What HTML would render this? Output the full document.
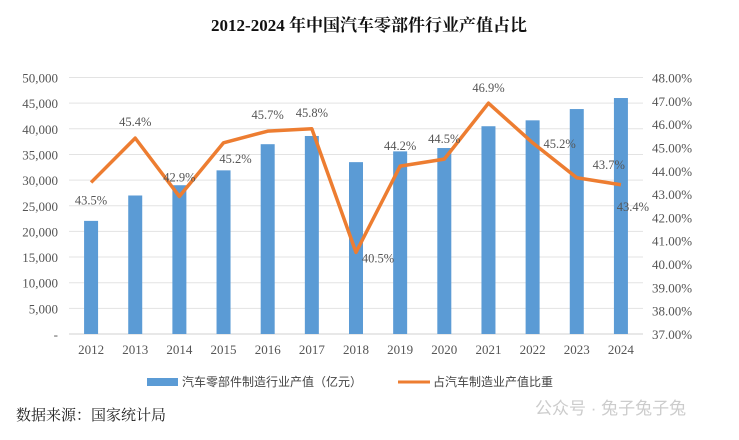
<!DOCTYPE html>
<html><head><meta charset="utf-8"><style>
body{margin:0;background:#fff;width:739px;height:435px;overflow:hidden;font-family:"Liberation Serif","Noto Serif CJK SC",serif;}
svg text{font-family:"Liberation Serif","Noto Sans CJK SC",serif;}
</style></head><body>
<svg id="chart" width="739" height="435" xmlns="http://www.w3.org/2000/svg">
<text x="369" y="31" text-anchor="middle" font-size="17" font-weight="bold" fill="#111" style="font-family:'Liberation Serif','Noto Serif CJK SC',serif">2012-2024 年中国汽车零部件行业产值占比</text>
<g id="grid"></g><g id="bars"></g><g id="line"></g><g id="labels"></g><g id="axes"></g>
<g>
<rect x="147" y="378" width="31" height="8" fill="#5b9bd5"/>
<text x="182" y="386" font-size="12" fill="#444" style="font-family:'Liberation Sans','Noto Sans CJK SC',sans-serif">汽车零部件制造行业产值（亿元）</text>
<line x1="398" y1="382" x2="430" y2="382" stroke="#ed7d31" stroke-width="3"/>
<text x="433" y="386" font-size="12" fill="#444" style="font-family:'Liberation Sans','Noto Sans CJK SC',sans-serif">占汽车制造业产值比重</text>
</g>
<text x="16" y="420" font-size="15" fill="#222" style="font-family:'Liberation Serif','Noto Serif CJK SC',serif">数据来源：国家统计局</text>
<text x="535" y="414" font-size="17" fill="#ccc" style="font-family:'Liberation Sans','Noto Sans CJK SC',sans-serif">公众号 · 兔子兔子兔</text>
</svg>
<script>
const categories=["2012","2013","2014","2015","2016","2017","2018","2019","2020","2021","2022","2023","2024"];
const outputValues=[22050,27000,29000,31900,37000,38600,33500,35600,36250,40500,41650,43850,46000];
const shareValues=[43.5,45.4,42.9,45.2,45.7,45.8,40.5,44.2,44.5,46.9,45.2,43.7,43.4];
const leftTicks=[0,5000,10000,15000,20000,25000,30000,35000,40000,45000,50000];
const rightTicks=[37,38,39,40,41,42,43,44,45,46,47,48];
const NS="http://www.w3.org/2000/svg";
const X0=69,X1=643,Y0=334,Y1=77.5;
const step=(X1-X0)/categories.length;
const xc=i=>X0+step*(i+0.5);
const yL=v=>Y0-(v/50000)*(Y0-Y1);
const yR=v=>Y0-((v-37)/11)*(Y0-Y1);
function mk(tag,attrs,parent,txt){const e=document.createElementNS(NS,tag);for(const k in attrs)e.setAttribute(k,attrs[k]);if(txt!==undefined)e.textContent=txt;document.getElementById(parent).appendChild(e);return e;}
leftTicks.forEach((t,i)=>{
 const g=mk('line',{x1:X0,x2:X1,y1:yL(t),y2:yL(t),stroke:i===0?'#d0d0d0':'#e3e3e3','stroke-width':1},'grid');
 
 
 const l=mk('text',{x:58,y:yL(t)+5,'text-anchor':'end','font-size':13,fill:'#555'},'axes',t===0?'-':t.toLocaleString('en-US'));
 
 
});
rightTicks.forEach(t=>{
 const l=mk('text',{x:652,y:yR(t)+5,'font-size':13,fill:'#555'},'axes',t.toFixed(2)+'%');
 
 
});
categories.forEach((c,i)=>{
 const l=mk('text',{x:xc(i),y:354,'text-anchor':'middle','font-size':13,fill:'#555'},'axes',c);
 
 
 const b=mk('rect',{x:xc(i)-7,y:yL(outputValues[i]),width:14,height:Y0-yL(outputValues[i]),fill:'#5b9bd5'},'bars');
 
 
});
const pts=shareValues.map((v,i)=>xc(i)+','+yR(v)).join(' ');
const pl=mk('polyline',{points:pts,fill:'none',stroke:'#ed7d31','stroke-width':3.5,'stroke-linejoin':'round'},'line');


const offs=[[0,22],[0,-12],[0,-15],[12,20],[0,-12],[0,-12],[22,10],[0,-16],[0,-16],[0,-11],[27,5],[32,-9],[12,26]];
shareValues.forEach((v,i)=>{
 const l=mk('text',{x:xc(i)+offs[i][0],y:yR(v)+offs[i][1],'text-anchor':'middle','font-size':12.5,fill:'#555'},'labels',v.toFixed(1)+'%');
 
 
});
</script>
</body></html>
